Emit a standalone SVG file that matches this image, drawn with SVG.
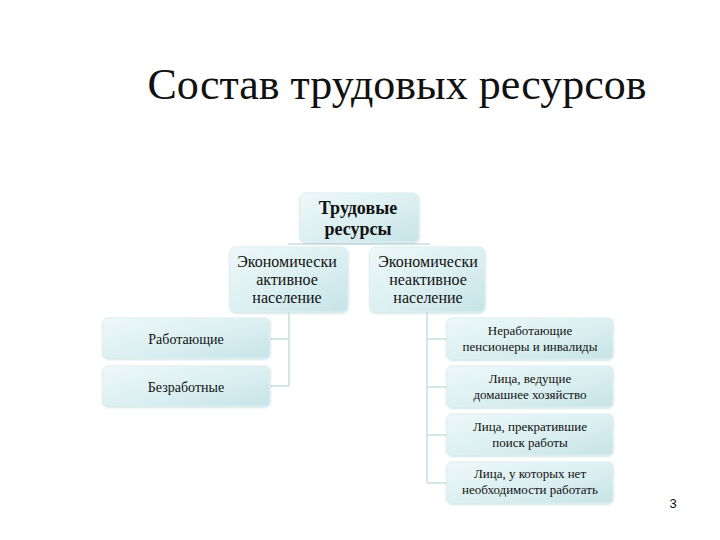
<svg xmlns="http://www.w3.org/2000/svg" width="720" height="540" viewBox="0 0 720 540">
<defs>
<linearGradient id="g" x1="0" y1="0" x2="1" y2="1">
<stop offset="0" stop-color="#eef8f8"/>
<stop offset="0.6" stop-color="#d9eef0"/>
<stop offset="1" stop-color="#c5e3e6"/>
</linearGradient>
<filter id="sh" x="-10%" y="-10%" width="120%" height="130%">
<feDropShadow dx="0" dy="1" stdDeviation="1" flood-color="#9fc4c8" flood-opacity="0.6"/>
</filter>
</defs>
<style>
.box{fill:url(#g);stroke:#e2f0f1;stroke-width:1;filter:url(#sh)}
.t{fill:#111;text-anchor:middle}
.c{stroke:#d4e6e8;stroke-width:2;fill:none}
</style>
<rect width="720" height="540" fill="#fff"/>
<text x="397" y="99" font-family="Liberation Serif" font-size="44" fill="#111" text-anchor="middle">Состав трудовых ресурсов</text>
<g id="connectors">
<path class="c" d="M288 244 H430"/>
<path class="c" d="M289 312 V386 M270 339 H289 M270 386 H289"/>
<path class="c" d="M427 312 V483 M427 339 H447 M427 387 H447 M427 435 H447 M427 483 H447"/>
</g>
<g id="n-root" font-family="Liberation Serif" font-size="18" font-weight="bold"><rect class="box" x="300" y="193" width="119" height="49" rx="6"/><text class="t" x="358" y="214">Трудовые</text><text class="t" x="358" y="235">ресурсы</text></g>
<g id="n-active" font-family="Liberation Serif" font-size="16"><rect class="box" x="230" y="247" width="118" height="65" rx="6"/><text class="t" x="287" y="267">Экономически</text><text class="t" x="287" y="285">активное</text><text class="t" x="287" y="303">население</text></g>
<g id="n-inactive" font-family="Liberation Serif" font-size="16"><rect class="box" x="370" y="247" width="115" height="65" rx="6"/><text class="t" x="428" y="267">Экономически</text><text class="t" x="428" y="285">неактивное</text><text class="t" x="428" y="303">население</text></g>
<g id="n-work" font-family="Liberation Serif" font-size="14"><rect class="box" x="103" y="318" width="167" height="40" rx="5"/><text class="t" x="186" y="344">Работающие</text></g>
<g id="n-unemp" font-family="Liberation Serif" font-size="14"><rect class="box" x="103" y="366" width="167" height="40" rx="5"/><text class="t" x="186" y="392">Безработные</text></g>
<g id="n-pens" font-family="Liberation Serif" font-size="13"><rect class="box" x="447" y="318" width="166" height="41" rx="5"/><text class="t" x="530" y="335">Неработающие</text><text class="t" x="530" y="351">пенсионеры и инвалиды</text></g>
<g id="n-home" font-family="Liberation Serif" font-size="13"><rect class="box" x="447" y="366" width="166" height="41" rx="5"/><text class="t" x="530" y="383">Лица, ведущие</text><text class="t" x="530" y="399">домашнее хозяйство</text></g>
<g id="n-stop" font-family="Liberation Serif" font-size="13"><rect class="box" x="447" y="414" width="166" height="41" rx="5"/><text class="t" x="530" y="431">Лица, прекратившие</text><text class="t" x="530" y="447">поиск работы</text></g>
<g id="n-noneed" font-family="Liberation Serif" font-size="13"><rect class="box" x="447" y="462" width="166" height="41" rx="5"/><text class="t" x="530" y="478">Лица, у которых нет</text><text class="t" x="530" y="494">необходимости работать</text></g>
<text x="673" y="508" font-family="Liberation Sans" font-size="13" fill="#111" text-anchor="middle">3</text>
</svg>
